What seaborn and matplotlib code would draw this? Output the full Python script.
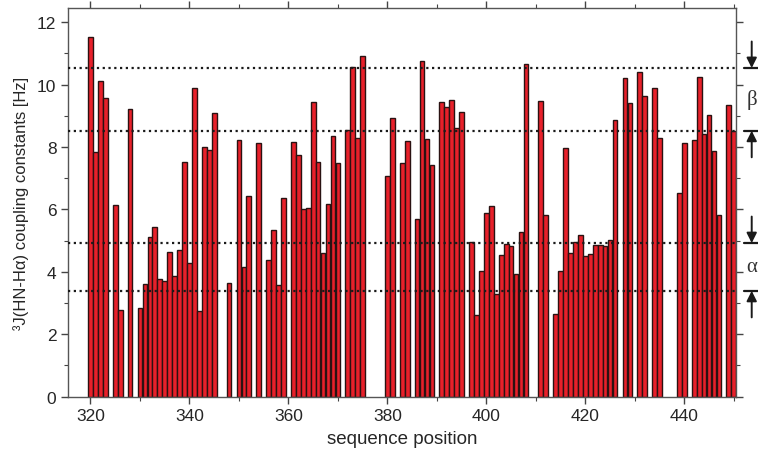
import pandas as pd
import seaborn as sns
import matplotlib.pyplot as plt
from matplotlib.ticker import MultipleLocator

# residue positions with a measured coupling constant (gaps = no data)
positions = [
    320, 321, 322, 323, 325, 326, 328,
    330, 331, 332, 333, 334, 335, 336, 337, 338, 339,
    340, 341, 342, 343, 344, 345, 348,
    350, 351, 352, 354, 356, 357, 358, 359,
    361, 362, 363, 364, 365, 366, 367, 368, 369,
    370, 372, 373, 374, 375,
    380, 381, 383, 384, 386, 387, 388, 389,
    391, 392, 393, 394, 395, 397, 398, 399,
    400, 401, 402, 403, 404, 405, 406, 407, 408,
    411, 412, 414, 415, 416, 417, 418, 419,
    420, 421, 422, 423, 424, 425, 426, 428, 429,
    431, 432, 434, 435, 439,
    440, 442, 443, 444, 445, 446, 447, 449, 450,
]
couplings = [
    11.52, 7.85, 10.11, 9.57, 6.13, 2.77, 9.22,
    2.83, 3.61, 5.10, 5.42, 3.78, 3.70, 4.62, 3.87, 4.69, 7.53,
    4.29, 9.90, 2.74, 8.01, 7.90, 9.08, 3.63,
    8.21, 4.14, 6.44, 8.12, 4.39, 5.33, 3.58, 6.35,
    8.17, 7.74, 6.00, 6.04, 9.43, 7.52, 4.59, 6.16, 8.35,
    7.50, 8.56, 10.55, 8.28, 10.91,
    7.08, 8.94, 7.50, 8.20, 5.70, 10.74, 8.25, 7.42,
    9.45, 9.28, 9.50, 8.60, 9.13, 4.94, 2.60, 4.04,
    5.88, 6.12, 3.29, 4.55, 4.88, 4.83, 3.93, 5.26, 10.66,
    9.48, 5.81, 2.64, 4.02, 7.97, 4.59, 4.97, 5.19,
    4.50, 4.56, 4.85, 4.85, 4.82, 5.01, 8.87, 10.20, 9.41,
    10.40, 9.63, 9.90, 8.28, 6.52,
    8.13, 8.23, 10.25, 8.43, 9.01, 7.87, 5.82, 9.36, 8.52,
]

# reference ranges: beta sheet (upper pair) and alpha helix (lower pair)
beta_range = [10.53, 8.52]
alpha_range = [4.92, 3.39]

df = pd.DataFrame({'pos': positions, 'J': couplings})

sns.set_style('ticks')
plt.rcParams['font.family'] = ['Liberation Sans Narrow', 'Liberation Sans', 'DejaVu Sans']

fig = plt.figure(figsize=(7.58, 4.56), dpi=100)
ax = fig.add_axes([0.09, 0.128, 0.881, 0.852])

sns.barplot(data=df, x='pos', y='J', native_scale=True, width=0.95,
            color='#e8202a', saturation=1, edgecolor='#2a1212', linewidth=1.0, ax=ax)

for yv in beta_range + alpha_range:
    ax.axhline(yv, color='#1a1a1a', linestyle=(0, (1, 1.6)), linewidth=1.6, zorder=3)

ax.set_xlim(315.5, 450.45)
ax.set_ylim(0, 12.45)
ax.xaxis.set_major_locator(MultipleLocator(20))
ax.xaxis.set_minor_locator(MultipleLocator(10))
ax.yaxis.set_major_locator(MultipleLocator(2))
ax.yaxis.set_minor_locator(MultipleLocator(1))
ax.tick_params(which='both', direction='out', top=True, right=True, color='#444', labelsize=12.5)
ax.tick_params(which='major', length=5, width=1)
ax.tick_params(which='minor', length=3, width=0.8)
for s in ax.spines.values():
    s.set_color('#555')
    s.set_linewidth(1)

ax.set_xlabel('sequence position', fontsize=13.5, labelpad=5)
ax.set_ylabel('³J(HN-Hα) coupling constants [Hz]', fontsize=12, labelpad=6)

# range markers on the right-hand side
trans = ax.get_yaxis_transform()
for top, bottom, name in [(beta_range[0], beta_range[1], 'β'), (alpha_range[0], alpha_range[1], 'α')]:
    for yv in (top, bottom):
        ax.plot([1.012, 1.034], [yv, yv], transform=trans, color='#1a1a1a', lw=1.6, clip_on=False)
    ax.annotate('', xy=(1.0235, top), xytext=(1.0235, top + 0.85), xycoords=trans, textcoords=trans,
                arrowprops=dict(arrowstyle='-|>', color='#1a1a1a', lw=1.4, mutation_scale=15,
                                shrinkA=0, shrinkB=0), annotation_clip=False)
    ax.annotate('', xy=(1.0235, bottom), xytext=(1.0235, bottom - 0.85), xycoords=trans, textcoords=trans,
                arrowprops=dict(arrowstyle='-|>', color='#1a1a1a', lw=1.4, mutation_scale=15,
                                shrinkA=0, shrinkB=0), annotation_clip=False)
    ax.text(1.0235, (top + bottom) / 2, name, transform=trans, ha='center', va='center',
            fontsize=15, family=['Liberation Serif', 'DejaVu Serif'], color='#333')

fig.savefig('out.png', dpi=100)
